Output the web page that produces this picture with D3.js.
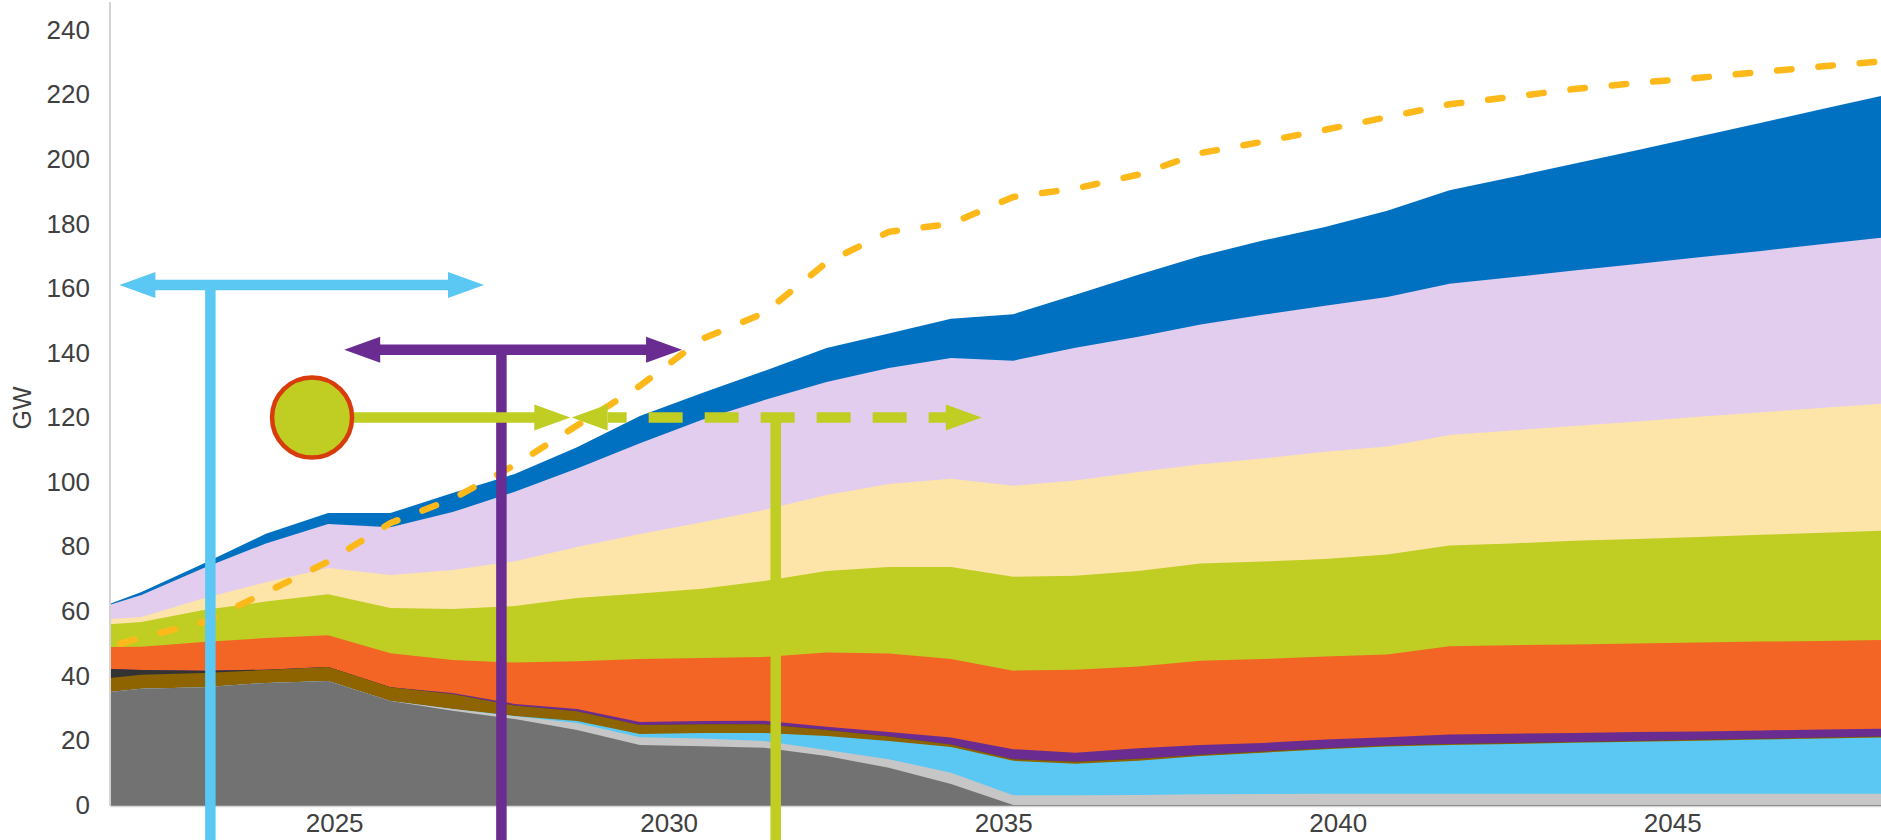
<!DOCTYPE html>
<html>
<head>
<meta charset="utf-8">
<script src="https://cdn.jsdelivr.net/npm/d3@7"></script>
<style>
  html, body { margin: 0; padding: 0; background: #fff; }
  svg { display: block; font-family: "Liberation Sans", Arial, sans-serif; }
</style>
</head>
<body>
<svg id="chart" width="1881" height="840"></svg>
<script>
// x position of every data point (first one is the axis edge)
const periods = [2021.65, 2022.12, 2023.05, 2023.98, 2024.91, 2025.84, 2026.77, 2027.70, 2028.63, 2029.57,
                 2030.50, 2031.43, 2032.36, 2033.29, 2034.22, 2035.15, 2036.08, 2037.02, 2037.95, 2038.88,
                 2039.81, 2040.74, 2041.67, 2042.60, 2043.53, 2044.47, 2045.40, 2046.33, 2047.26, 2048.19];

// stacked layers, bottom to top (GW)
const darkGrey = [35.0, 36.0, 36.5, 37.8, 38.4, 32.2, 29.2, 26.6, 23.2, 18.6, 18.2, 17.7, 15.2, 11.5, 6.5,
                  0, 0, 0, 0, 0, 0, 0, 0, 0, 0, 0, 0, 0, 0, 0];
const lightGrey = [0, 0, 0, 0, 0, 0, 0.5, 0.9, 2.2, 2.4, 2.4, 2.1, 1.8, 2.7, 3.5,
                   3.0, 3.0, 3.1, 3.3, 3.4, 3.5, 3.5, 3.5, 3.5, 3.5, 3.5, 3.5, 3.5, 3.5, 3.5];
const cyan = [0, 0, 0, 0, 0, 0, 0, 0.1, 0.6, 1.0, 1.7, 2.5, 4.4, 5.6, 8.0,
              10.7, 9.8, 10.6, 11.9, 12.8, 13.8, 14.6, 15.1, 15.4, 15.8, 16.1, 16.4, 16.8, 17.1, 17.4];
const brown = [4.3, 4.3, 4.4, 4.0, 4.3, 4.3, 4.7, 3.2, 3.0, 2.8, 2.7, 2.7, 1.8, 1.4, 0.7,
               0.5, 0.6, 0.6, 0.4, 0.4, 0.3, 0.3, 0.3, 0.3, 0.2, 0.2, 0.3, 0.2, 0.3, 0.3];
const black = [2.8, 1.5, 0.7, 0.1, 0, 0, 0, 0, 0, 0, 0, 0, 0, 0, 0,
               0, 0, 0, 0, 0, 0, 0, 0, 0, 0, 0, 0, 0, 0, 0];
const purple = [0, 0, 0, 0, 0, 0, 0.3, 0.5, 0.7, 0.9, 1.0, 1.1, 1.0, 1.4, 2.2,
                3.1, 2.8, 3.3, 3.0, 2.6, 2.7, 2.6, 2.9, 2.9, 2.8, 2.8, 2.6, 2.6, 2.5, 2.4];
const orange = [6.8, 7.2, 8.9, 9.8, 9.9, 10.5, 10.2, 12.8, 14.8, 19.5, 19.5, 19.7, 23.0, 24.3, 24.3,
                24.3, 25.7, 25.3, 26.1, 26.0, 25.7, 25.6, 27.4, 27.4, 27.4, 27.4, 27.5, 27.5, 27.4, 27.5];
const green = [7.1, 7.7, 9.9, 11.3, 12.7, 14.0, 15.8, 17.5, 19.6, 20.3, 21.5, 23.6, 25.3, 26.8, 28.5,
               29.1, 29.1, 29.6, 30.1, 30.2, 30.2, 31.0, 31.2, 31.5, 32.1, 32.4, 32.7, 33.1, 33.5, 33.9];
const peach = [1.6, 1.5, 3.6, 6.0, 8.1, 10.2, 12.1, 13.9, 15.8, 18.4, 20.6, 22.0, 23.5, 25.7, 27.3,
               28.2, 29.5, 30.6, 30.7, 31.9, 33.2, 33.4, 34.2, 35.0, 35.6, 36.4, 37.2, 37.9, 38.7, 39.4];
const lavender = [4.4, 6.8, 9.4, 12.0, 13.6, 14.8, 17.9, 21.5, 24.3, 28.1, 31.7, 34.0, 35.0, 35.9, 37.4,
                  38.7, 41.1, 41.9, 43.3, 44.5, 45.2, 46.3, 46.8, 47.4, 48.1, 48.7, 49.4, 50.0, 50.7, 51.4];
const blue = [0.3, 1.0, 1.4, 3.0, 3.4, 4.4, 5.9, 5.5, 6.6, 8.5, 8.3, 9.0, 10.5, 10.7, 12.2,
              14.4, 16.4, 19.2, 21.2, 23.0, 24.4, 26.7, 29.0, 31.0, 33.1, 35.3, 37.4, 39.7, 41.9, 44.1];

// dashed line (GW)
const peak = [49.0, 51.9, 56.6, 65.8, 75.4, 87.3, 94.8, 105.3, 117.5, 129.8, 144.3, 152.4, 168.0, 177.5, 180.0,
              188.3, 190.9, 195.2, 201.9, 205.4, 209.1, 213.0, 217.0, 219.3, 221.7, 223.6, 225.2, 227.0, 228.8, 230.4];

const yTicks = [0, 20, 40, 60, 80, 100, 120, 140, 160, 180, 200, 220, 240];
const xTicks = [2025, 2030, 2035, 2040, 2045];

const layers = [
    { key: "darkGrey", color: "#727272", values: darkGrey },
    { key: "lightGrey", color: "#c6c6c6", values: lightGrey },
    { key: "cyan", color: "#5bc8f4", values: cyan },
    { key: "brown", color: "#8e6400", values: brown },
    { key: "black", color: "#333333", values: black },
    { key: "purple", color: "#6a2c91", values: purple },
    { key: "orange", color: "#f26524", values: orange },
    { key: "green", color: "#c0cd22", values: green },
    { key: "peach", color: "#fde4a9", values: peach },
    { key: "lavender", color: "#e2cdef", values: lavender },
    { key: "blue", color: "#0070c0", values: blue }
];

// annotation arrows (values in chart units)
const bracketArrows = [
    { color: "#5bc8f4", value: 161, from: 2021.79, to: 2027.24, stem: 2023.15 },
    { color: "#6a2c91", value: 141, from: 2025.15, to: 2030.2, stem: 2027.5 }
];
const greenArrow = { color: "#c0cd22", value: 120, circle: 2024.67, solidTo: 2028.53, dashFrom: 2028.55, dashTo: 2034.68, stem: 2031.6 };

const svg = d3.select("#chart");
const W = +svg.attr("width"), H = +svg.attr("height");

let x = d3.scaleLinear().domain([2021.65, 2048.12]).range([110, 1881]);
let y = d3.scaleLinear().domain([0, 240]).range([805, 30]);

let rows = periods.map(function(p, i) {
    let r = { period: p, peak: peak[i] };
    layers.forEach(l => r[l.key] = l.values[i]);
    return r;
});
let series = d3.stack().keys(layers.map(l => l.key))(rows);
let colorOf = {};
layers.forEach(l => colorOf[l.key] = l.color);

svg.append("defs").append("clipPath").attr("id", "plot")
    .append("rect")
    .attr("x", x.range()[0]).attr("y", 0)
    .attr("width", x.range()[1] - x.range()[0])
    .attr("height", y(0) + 1);

let plot = svg.append("g").attr("clip-path", "url(#plot)");

// each layer filled from the baseline up, top layer first, so no seams show
plot.selectAll("path.layer")
    .data(series.slice().reverse())
    .join("path")
    .attr("class", "layer")
    .attr("fill", s => colorOf[s.key])
    .attr("d", d3.area()
        .x(d => x(d.data.period))
        .y0(y(0) + 1)
        .y1(d => y(d[1])));

// dashed line
plot.append("path")
    .datum(rows)
    .attr("fill", "none")
    .attr("stroke", "#fdb91a")
    .attr("stroke-width", 6.5)
    .attr("stroke-linecap", "round")
    .attr("stroke-dasharray", "14.5,27")
    .attr("stroke-dashoffset", 30.5)
    .attr("d", d3.line()
        .x(d => x(d.period))
        .y(d => y(d.peak)));

// axes
let yAxis = svg.append("g")
    .attr("transform", `translate(${x.range()[0]},0)`)
    .call(d3.axisLeft(y).tickValues(yTicks).tickSize(0).tickPadding(20));
yAxis.select(".domain").remove();

let xAxis = svg.append("g")
    .attr("transform", `translate(0,${y(0) + 1})`)
    .call(d3.axisBottom(x).tickValues(xTicks).tickFormat(d3.format("d")).tickSize(0).tickPadding(8));
xAxis.select(".domain").attr("stroke", "#d6d6d6").attr("stroke-width", 1.5);

[yAxis, xAxis].forEach(function(g) {
    g.attr("font-size", 26).attr("font-family", "'Liberation Sans', Arial, sans-serif");
    g.selectAll("text").attr("fill", "#404040");
});

svg.append("line")
    .attr("x1", x.range()[0]).attr("x2", x.range()[0])
    .attr("y1", 2).attr("y2", y(0) + 1)
    .attr("stroke", "#d3d3d3")
    .attr("stroke-width", 2);

svg.append("text")
    .attr("transform", "translate(22,408) rotate(-90)")
    .attr("text-anchor", "middle")
    .attr("dominant-baseline", "central")
    .attr("font-size", 25)
    .attr("fill", "#404040")
    .text("GW");

// annotations
const headLen = 36, headHalf = 13, lineW = 10.5;

function head(g, tipX, tipY, dir, color) {
    g.append("polygon")
        .attr("points", [[tipX, tipY], [tipX - dir * headLen, tipY - headHalf], [tipX - dir * headLen, tipY + headHalf]].join(" "))
        .attr("fill", color);
}

let notes = svg.append("g");

bracketArrows.forEach(function(a) {
    let ay = y(a.value);
    notes.append("line")
        .attr("x1", x(a.stem)).attr("x2", x(a.stem))
        .attr("y1", ay).attr("y2", H)
        .attr("stroke", a.color).attr("stroke-width", lineW);
    notes.append("line")
        .attr("x1", x(a.from) + headLen - 1).attr("x2", x(a.to) - headLen + 1)
        .attr("y1", ay).attr("y2", ay)
        .attr("stroke", a.color).attr("stroke-width", lineW);
    head(notes, x(a.from), ay, -1, a.color);
    head(notes, x(a.to), ay, 1, a.color);
});

let g = greenArrow, gy = y(g.value);
notes.append("line")
    .attr("x1", x(g.stem)).attr("x2", x(g.stem))
    .attr("y1", gy).attr("y2", H)
    .attr("stroke", g.color).attr("stroke-width", lineW);
notes.append("line")
    .attr("x1", x(g.circle)).attr("x2", x(g.solidTo) - headLen + 1)
    .attr("y1", gy).attr("y2", gy)
    .attr("stroke", g.color).attr("stroke-width", lineW);
head(notes, x(g.solidTo), gy, 1, g.color);
head(notes, x(g.dashFrom), gy, -1, g.color);
notes.append("line")
    .attr("x1", x(g.dashFrom) + headLen).attr("x2", x(g.dashTo) - headLen + 1)
    .attr("y1", gy).attr("y2", gy)
    .attr("stroke", g.color).attr("stroke-width", lineW)
    .attr("stroke-dasharray", "34,22")
    .attr("stroke-dashoffset", 15);
head(notes, x(g.dashTo), gy, 1, g.color);
notes.append("circle")
    .attr("cx", x(g.circle)).attr("cy", gy)
    .attr("r", 40)
    .attr("fill", g.color)
    .attr("stroke", "#d83c0a")
    .attr("stroke-width", 4.5);
</script>
</body>
</html>
